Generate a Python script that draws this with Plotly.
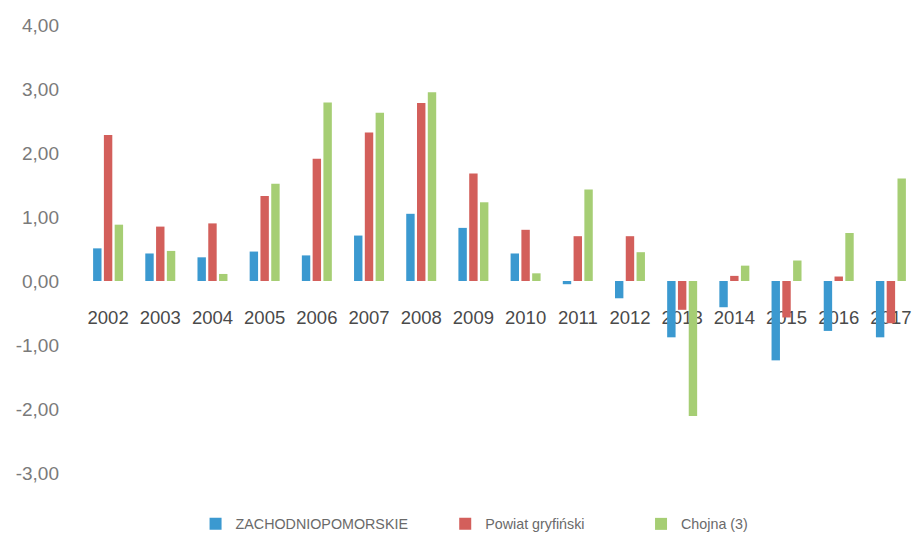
import plotly.graph_objects as go

years = ["2002", "2003", "2004", "2005", "2006", "2007", "2008", "2009",
         "2010", "2011", "2012", "2013", "2014", "2015", "2016", "2017"]
zachodniopomorskie = [0.51, 0.43, 0.37, 0.46, 0.40, 0.71, 1.05, 0.83,
                      0.43, -0.05, -0.27, -0.88, -0.41, -1.24, -0.78, -0.88]
powiat_gryfinski = [2.28, 0.85, 0.90, 1.33, 1.91, 2.32, 2.78, 1.68,
                    0.80, 0.70, 0.70, -0.45, 0.08, -0.57, 0.07, -0.66]
chojna = [0.88, 0.47, 0.11, 1.52, 2.79, 2.63, 2.95, 1.23,
          0.12, 1.43, 0.45, -2.11, 0.24, 0.32, 0.75, 1.60]

series_names = ["ZACHODNIOPOMORSKIE", "Powiat gryfiński", "Chojna (3)"]
series_values = [zachodniopomorskie, powiat_gryfinski, chojna]
colors = ["#3B99D0", "#D35F5B", "#A6CE74"]
legend_ids = ["legend", "legend2", "legend3"]
legend_x = [0.136, 0.435, 0.6695]

y_ticks = [4, 3, 2, 1, 0, -1, -2, -3]
y_tick_labels = ["4,00", "3,00", "2,00", "1,00", "0,00", "-1,00", "-2,00", "-3,00"]

fig = go.Figure()
for name, vals, col, lg in zip(series_names, series_values, colors, legend_ids):
    fig.add_trace(go.Bar(x=years, y=vals, name=name, legend=lg,
                         marker=dict(color=col, line=dict(width=0))))

font_family = "Liberation Sans, Arial, sans-serif"
legend_common = dict(orientation="h", yanchor="middle", y=-0.114, xanchor="left",
                     font=dict(size=14.3, color="#6a6a6a"), bgcolor="rgba(0,0,0,0)")
fig.update_layout(
    width=921, height=544,
    margin=dict(l=82, r=4, t=25, b=64),
    paper_bgcolor="white", plot_bgcolor="white",
    barmode="group", bargap=0.38, bargroupgap=0.22,
    font=dict(family=font_family, color="#666666", size=16),
    showlegend=True,
    legend=dict(x=legend_x[0], **legend_common),
    legend2=dict(x=legend_x[1], **legend_common),
    legend3=dict(x=legend_x[2], **legend_common),
    xaxis=dict(type="category", anchor="free", position=3/7,
               showline=False, showgrid=False, zeroline=False,
               ticks="", ticklabelstandoff=23, layer="below traces",
               ticklabeloverflow="allow",
               tickfont=dict(size=18.5, color="#4a4a4a", family=font_family)),
    yaxis=dict(range=[-3, 4], tickvals=y_ticks, ticktext=y_tick_labels,
               showline=False, showgrid=False, zeroline=False, ticks="",
               ticklabelstandoff=22,
               tickfont=dict(size=19, color="#7a7a7a", family=font_family)),
)

fig.write_html("out.html", config={"displayModeBar": False},
               post_script="document.body.style.margin='0';")
